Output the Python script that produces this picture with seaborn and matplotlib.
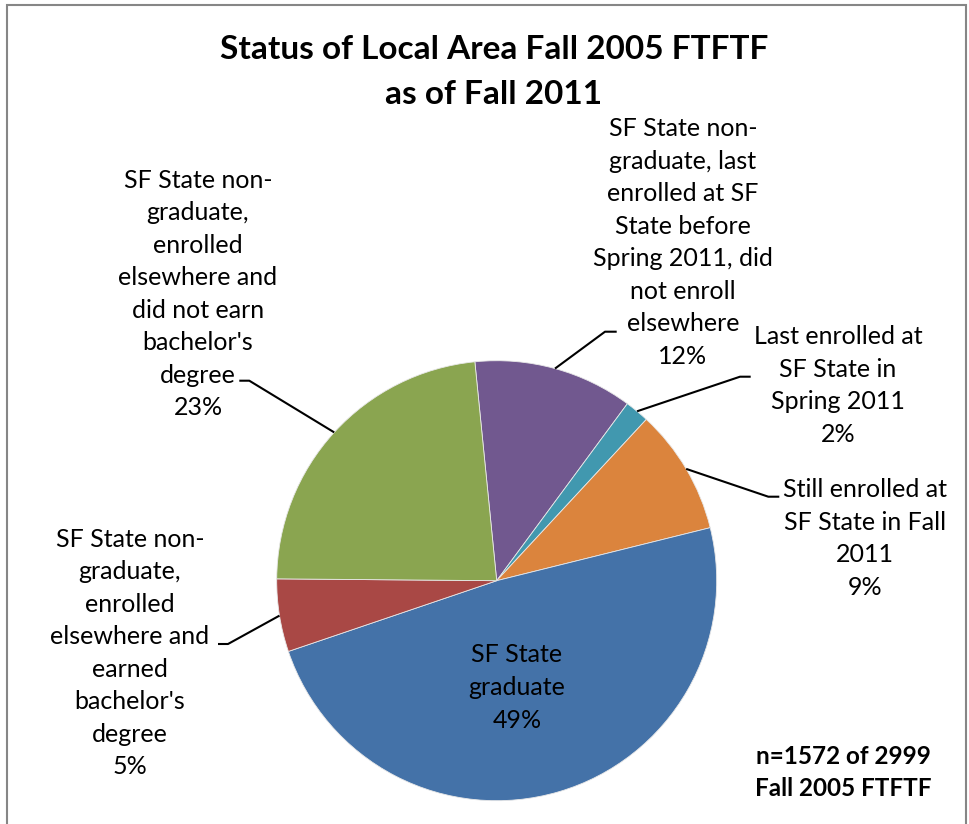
import matplotlib
matplotlib.use("Agg")
import matplotlib.pyplot as plt
import numpy as np
import seaborn as sns
from matplotlib.patches import Rectangle

# slice data, clockwise from just left of 12 o'clock
categories = [
    "SF State non-\ngraduate, last\nenrolled at SF\nState before\nSpring 2011, did\nnot enroll\nelsewhere",
    "Last enrolled at\nSF State in\nSpring 2011",
    "Still enrolled at\nSF State in Fall\n2011",
    "SF State\ngraduate",
    "SF State non-\ngraduate,\nenrolled\nelsewhere and\nearned\nbachelor's\ndegree",
    "SF State non-\ngraduate,\nenrolled\nelsewhere and\ndid not earn\nbachelor's\ndegree",
]
counts = [184, 28, 145, 765, 84, 366]
colors = ["#71588F", "#4198AF", "#DB843D", "#4472A8", "#A94845", "#8AA550"]

title = "Status of Local Area Fall 2005 FTFTF\nas of Fall 2011"
note = "n=1572 of 2999\nFall 2005 FTFTF"

W, H = 969, 824

sns.set_style("white")
plt.rcParams["font.family"] = ["Lato", "DejaVu Sans"]

fig = plt.figure(figsize=(W / 100, H / 100), dpi=100)
ax = fig.add_axes([0, 0, 1, 1])

cx, cy, r = 496.7, H - 580.7, 220
wedges, _ = ax.pie(
    counts,
    colors=colors,
    startangle=95.7,
    counterclock=False,
    center=(cx, cy),
    radius=r,
    wedgeprops=dict(linewidth=0.6, edgecolor="#e8e8e8"),
)
ax.set_xlim(0, W)
ax.set_ylim(0, H)
ax.set_aspect("equal")
ax.axis("off")

pct = [round(100 * c / sum(counts)) for c in counts]

# label block centres (x, y from top) and leader-line elbows
label_pos = [(683, 242.5), (838, 385.5), (865, 538.5), (517, 687.5), (130, 653), (198, 294)]
elbows = [
    [(605, 331.7), (616.7, 331.7)],
    [(740, 376.7), (750.7, 376.7)],
    [(768.3, 496.7), (779.3, 496.7)],
    None,
    [(228, 644), (218, 644)],
    [(249.3, 380.7), (239.3, 380.7)],
]

lab_fs = 18
for wedge, cat, p, (lx, ly), elbow in zip(wedges, categories, pct, label_pos, elbows):
    ax.text(lx, H - ly, f"{cat}\n{p}%", ha="center", va="center", multialignment="center",
            fontsize=lab_fs, linespacing=1.5, color="black")
    if elbow is None:
        continue
    mid = np.deg2rad((wedge.theta1 + wedge.theta2) / 2)
    xs = [cx + r * np.cos(mid)] + [e[0] for e in elbow]
    ys = [cy + r * np.sin(mid)] + [H - e[1] for e in elbow]
    ax.plot(xs, ys, color="black", linewidth=1.5, solid_capstyle="butt")

ax.text(494, H - 72, title, ha="center", va="center", fontsize=24, fontweight="bold",
        linespacing=1.7, color="black")
ax.text(843, H - 772.5, note, ha="center", va="center", fontsize=17.5, fontweight="bold",
        linespacing=1.5, color="black")

fig.add_artist(Rectangle((7 / W, -0.05), (966 - 7) / W, 1.05 - 5 / H, transform=fig.transFigure,
                         fill=False, edgecolor="#868686", linewidth=1.5))

fig.savefig("out.png", dpi=100)
plt.close(fig)
